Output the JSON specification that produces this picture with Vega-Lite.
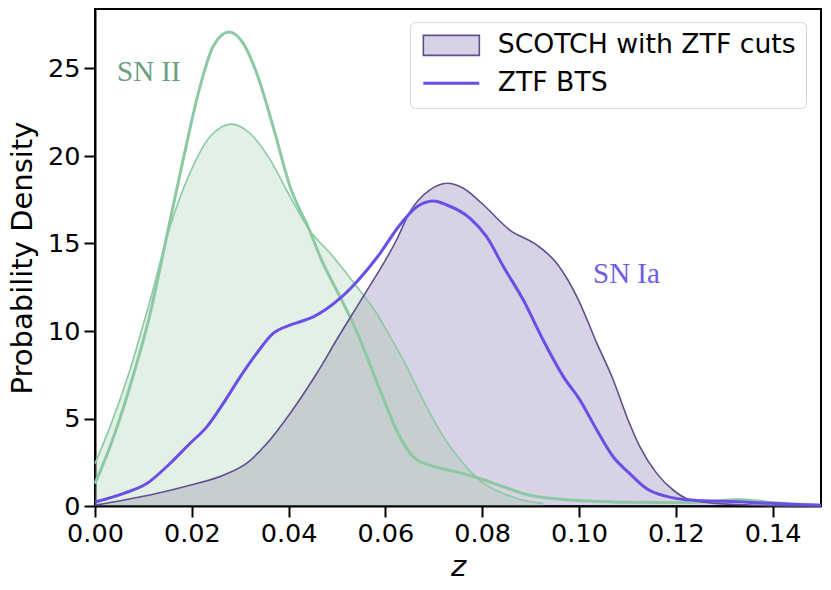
{
  "$schema": "https://vega.github.io/schema/vega-lite/v6.json",
  "width": 726,
  "height": 497,
  "autosize": "none",
  "padding": {"left": 95, "top": 9, "right": 10, "bottom": 84},
  "background": "white",
  "datasets": {
    "kde": [
      {"source": "ZTF BTS", "type": "SN II", "z": 0.0, "density": 1.28},
      {"source": "ZTF BTS", "type": "SN II", "z": 0.0031, "density": 3.38},
      {"source": "ZTF BTS", "type": "SN II", "z": 0.0072, "density": 6.81},
      {"source": "ZTF BTS", "type": "SN II", "z": 0.0114, "density": 11.0},
      {"source": "ZTF BTS", "type": "SN II", "z": 0.0148, "density": 15.39},
      {"source": "ZTF BTS", "type": "SN II", "z": 0.0182, "density": 19.78},
      {"source": "ZTF BTS", "type": "SN II", "z": 0.0217, "density": 23.97},
      {"source": "ZTF BTS", "type": "SN II", "z": 0.0244, "density": 26.26},
      {"source": "ZTF BTS", "type": "SN II", "z": 0.0277, "density": 27.08},
      {"source": "ZTF BTS", "type": "SN II", "z": 0.0306, "density": 26.45},
      {"source": "ZTF BTS", "type": "SN II", "z": 0.0334, "density": 24.74},
      {"source": "ZTF BTS", "type": "SN II", "z": 0.0368, "density": 21.68},
      {"source": "ZTF BTS", "type": "SN II", "z": 0.0403, "density": 18.25},
      {"source": "ZTF BTS", "type": "SN II", "z": 0.0443, "density": 15.77},
      {"source": "ZTF BTS", "type": "SN II", "z": 0.0465, "density": 14.25},
      {"source": "ZTF BTS", "type": "SN II", "z": 0.0506, "density": 11.96},
      {"source": "ZTF BTS", "type": "SN II", "z": 0.053, "density": 10.62},
      {"source": "ZTF BTS", "type": "SN II", "z": 0.0548, "density": 9.48},
      {"source": "ZTF BTS", "type": "SN II", "z": 0.0589, "density": 6.62},
      {"source": "ZTF BTS", "type": "SN II", "z": 0.0623, "density": 4.33},
      {"source": "ZTF BTS", "type": "SN II", "z": 0.0658, "density": 2.8},
      {"source": "ZTF BTS", "type": "SN II", "z": 0.0692, "density": 2.33},
      {"source": "ZTF BTS", "type": "SN II", "z": 0.0747, "density": 1.95},
      {"source": "ZTF BTS", "type": "SN II", "z": 0.0795, "density": 1.57},
      {"source": "ZTF BTS", "type": "SN II", "z": 0.0844, "density": 1.09},
      {"source": "ZTF BTS", "type": "SN II", "z": 0.0899, "density": 0.61},
      {"source": "ZTF BTS", "type": "SN II", "z": 0.0968, "density": 0.37},
      {"source": "ZTF BTS", "type": "SN II", "z": 0.1037, "density": 0.27},
      {"source": "ZTF BTS", "type": "SN II", "z": 0.1105, "density": 0.21},
      {"source": "ZTF BTS", "type": "SN II", "z": 0.123, "density": 0.2},
      {"source": "ZTF BTS", "type": "SN II", "z": 0.1333, "density": 0.36},
      {"source": "ZTF BTS", "type": "SN II", "z": 0.14, "density": 0.19},
      {"source": "ZTF BTS", "type": "SN II", "z": 0.1457, "density": 0.1},
      {"source": "ZTF BTS", "type": "SN II", "z": 0.15, "density": 0.05},

      {"source": "SCOTCH with ZTF cuts", "type": "SN II", "z": 0.0, "density": 2.43},
      {"source": "SCOTCH with ZTF cuts", "type": "SN II", "z": 0.0031, "density": 4.52},
      {"source": "SCOTCH with ZTF cuts", "type": "SN II", "z": 0.0072, "density": 7.76},
      {"source": "SCOTCH with ZTF cuts", "type": "SN II", "z": 0.0114, "density": 11.77},
      {"source": "SCOTCH with ZTF cuts", "type": "SN II", "z": 0.0155, "density": 15.96},
      {"source": "SCOTCH with ZTF cuts", "type": "SN II", "z": 0.0196, "density": 19.02},
      {"source": "SCOTCH with ZTF cuts", "type": "SN II", "z": 0.0238, "density": 21.11},
      {"source": "SCOTCH with ZTF cuts", "type": "SN II", "z": 0.0282, "density": 21.82},
      {"source": "SCOTCH with ZTF cuts", "type": "SN II", "z": 0.032, "density": 21.3},
      {"source": "SCOTCH with ZTF cuts", "type": "SN II", "z": 0.0362, "density": 19.78},
      {"source": "SCOTCH with ZTF cuts", "type": "SN II", "z": 0.0403, "density": 17.68},
      {"source": "SCOTCH with ZTF cuts", "type": "SN II", "z": 0.0443, "density": 15.77},
      {"source": "SCOTCH with ZTF cuts", "type": "SN II", "z": 0.0486, "density": 14.44},
      {"source": "SCOTCH with ZTF cuts", "type": "SN II", "z": 0.0541, "density": 12.53},
      {"source": "SCOTCH with ZTF cuts", "type": "SN II", "z": 0.0582, "density": 11.0},
      {"source": "SCOTCH with ZTF cuts", "type": "SN II", "z": 0.061, "density": 9.67},
      {"source": "SCOTCH with ZTF cuts", "type": "SN II", "z": 0.0637, "density": 8.34},
      {"source": "SCOTCH with ZTF cuts", "type": "SN II", "z": 0.0678, "density": 6.05},
      {"source": "SCOTCH with ZTF cuts", "type": "SN II", "z": 0.072, "density": 3.95},
      {"source": "SCOTCH with ZTF cuts", "type": "SN II", "z": 0.0761, "density": 2.43},
      {"source": "SCOTCH with ZTF cuts", "type": "SN II", "z": 0.0795, "density": 1.47},
      {"source": "SCOTCH with ZTF cuts", "type": "SN II", "z": 0.0844, "density": 0.71},
      {"source": "SCOTCH with ZTF cuts", "type": "SN II", "z": 0.0885, "density": 0.33},
      {"source": "SCOTCH with ZTF cuts", "type": "SN II", "z": 0.0926, "density": 0.15},

      {"source": "SCOTCH with ZTF cuts", "type": "SN Ia", "z": 0.0, "density": 0.05},
      {"source": "SCOTCH with ZTF cuts", "type": "SN Ia", "z": 0.0058, "density": 0.33},
      {"source": "SCOTCH with ZTF cuts", "type": "SN Ia", "z": 0.0127, "density": 0.71},
      {"source": "SCOTCH with ZTF cuts", "type": "SN Ia", "z": 0.0196, "density": 1.18},
      {"source": "SCOTCH with ZTF cuts", "type": "SN Ia", "z": 0.0265, "density": 1.76},
      {"source": "SCOTCH with ZTF cuts", "type": "SN Ia", "z": 0.0313, "density": 2.43},
      {"source": "SCOTCH with ZTF cuts", "type": "SN Ia", "z": 0.0355, "density": 3.57},
      {"source": "SCOTCH with ZTF cuts", "type": "SN Ia", "z": 0.0403, "density": 5.29},
      {"source": "SCOTCH with ZTF cuts", "type": "SN Ia", "z": 0.0458, "density": 7.57},
      {"source": "SCOTCH with ZTF cuts", "type": "SN Ia", "z": 0.0503, "density": 9.67},
      {"source": "SCOTCH with ZTF cuts", "type": "SN Ia", "z": 0.0554, "density": 11.96},
      {"source": "SCOTCH with ZTF cuts", "type": "SN Ia", "z": 0.0623, "density": 15.2},
      {"source": "SCOTCH with ZTF cuts", "type": "SN Ia", "z": 0.0651, "density": 16.82},
      {"source": "SCOTCH with ZTF cuts", "type": "SN Ia", "z": 0.0692, "density": 18.06},
      {"source": "SCOTCH with ZTF cuts", "type": "SN Ia", "z": 0.0727, "density": 18.44},
      {"source": "SCOTCH with ZTF cuts", "type": "SN Ia", "z": 0.0761, "density": 18.16},
      {"source": "SCOTCH with ZTF cuts", "type": "SN Ia", "z": 0.0799, "density": 17.3},
      {"source": "SCOTCH with ZTF cuts", "type": "SN Ia", "z": 0.0857, "density": 15.77},
      {"source": "SCOTCH with ZTF cuts", "type": "SN Ia", "z": 0.0913, "density": 14.91},
      {"source": "SCOTCH with ZTF cuts", "type": "SN Ia", "z": 0.0954, "density": 13.87},
      {"source": "SCOTCH with ZTF cuts", "type": "SN Ia", "z": 0.0999, "density": 11.77},
      {"source": "SCOTCH with ZTF cuts", "type": "SN Ia", "z": 0.1037, "density": 9.29},
      {"source": "SCOTCH with ZTF cuts", "type": "SN Ia", "z": 0.1071, "density": 7.19},
      {"source": "SCOTCH with ZTF cuts", "type": "SN Ia", "z": 0.1099, "density": 5.09},
      {"source": "SCOTCH with ZTF cuts", "type": "SN Ia", "z": 0.1126, "density": 3.38},
      {"source": "SCOTCH with ZTF cuts", "type": "SN Ia", "z": 0.1161, "density": 1.85},
      {"source": "SCOTCH with ZTF cuts", "type": "SN Ia", "z": 0.1195, "density": 0.9},
      {"source": "SCOTCH with ZTF cuts", "type": "SN Ia", "z": 0.1223, "density": 0.42},
      {"source": "SCOTCH with ZTF cuts", "type": "SN Ia", "z": 0.1281, "density": 0.15},
      {"source": "SCOTCH with ZTF cuts", "type": "SN Ia", "z": 0.1374, "density": 0.04},
      {"source": "SCOTCH with ZTF cuts", "type": "SN Ia", "z": 0.15, "density": 0.0},

      {"source": "ZTF BTS", "type": "SN Ia", "z": 0.0, "density": 0.23},
      {"source": "ZTF BTS", "type": "SN Ia", "z": 0.0058, "density": 0.71},
      {"source": "ZTF BTS", "type": "SN Ia", "z": 0.0107, "density": 1.28},
      {"source": "ZTF BTS", "type": "SN Ia", "z": 0.0155, "density": 2.43},
      {"source": "ZTF BTS", "type": "SN Ia", "z": 0.0196, "density": 3.57},
      {"source": "ZTF BTS", "type": "SN Ia", "z": 0.0231, "density": 4.52},
      {"source": "ZTF BTS", "type": "SN Ia", "z": 0.0265, "density": 5.86},
      {"source": "ZTF BTS", "type": "SN Ia", "z": 0.03, "density": 7.38},
      {"source": "ZTF BTS", "type": "SN Ia", "z": 0.0334, "density": 8.72},
      {"source": "ZTF BTS", "type": "SN Ia", "z": 0.0368, "density": 9.86},
      {"source": "ZTF BTS", "type": "SN Ia", "z": 0.0403, "density": 10.34},
      {"source": "ZTF BTS", "type": "SN Ia", "z": 0.0424, "density": 10.53},
      {"source": "ZTF BTS", "type": "SN Ia", "z": 0.0451, "density": 10.81},
      {"source": "ZTF BTS", "type": "SN Ia", "z": 0.0506, "density": 11.86},
      {"source": "ZTF BTS", "type": "SN Ia", "z": 0.0541, "density": 12.82},
      {"source": "ZTF BTS", "type": "SN Ia", "z": 0.0589, "density": 14.44},
      {"source": "ZTF BTS", "type": "SN Ia", "z": 0.0627, "density": 15.96},
      {"source": "ZTF BTS", "type": "SN Ia", "z": 0.0665, "density": 17.1},
      {"source": "ZTF BTS", "type": "SN Ia", "z": 0.0699, "density": 17.43},
      {"source": "ZTF BTS", "type": "SN Ia", "z": 0.0727, "density": 17.2},
      {"source": "ZTF BTS", "type": "SN Ia", "z": 0.0775, "density": 16.44},
      {"source": "ZTF BTS", "type": "SN Ia", "z": 0.0809, "density": 15.39},
      {"source": "ZTF BTS", "type": "SN Ia", "z": 0.0844, "density": 13.67},
      {"source": "ZTF BTS", "type": "SN Ia", "z": 0.0885, "density": 11.77},
      {"source": "ZTF BTS", "type": "SN Ia", "z": 0.0926, "density": 9.48},
      {"source": "ZTF BTS", "type": "SN Ia", "z": 0.0968, "density": 7.38},
      {"source": "ZTF BTS", "type": "SN Ia", "z": 0.1002, "density": 6.05},
      {"source": "ZTF BTS", "type": "SN Ia", "z": 0.1037, "density": 4.33},
      {"source": "ZTF BTS", "type": "SN Ia", "z": 0.1071, "density": 2.8},
      {"source": "ZTF BTS", "type": "SN Ia", "z": 0.1105, "density": 1.85},
      {"source": "ZTF BTS", "type": "SN Ia", "z": 0.114, "density": 0.99},
      {"source": "ZTF BTS", "type": "SN Ia", "z": 0.1181, "density": 0.55},
      {"source": "ZTF BTS", "type": "SN Ia", "z": 0.1223, "density": 0.36},
      {"source": "ZTF BTS", "type": "SN Ia", "z": 0.1298, "density": 0.27},
      {"source": "ZTF BTS", "type": "SN Ia", "z": 0.1367, "density": 0.19},
      {"source": "ZTF BTS", "type": "SN Ia", "z": 0.1436, "density": 0.1},
      {"source": "ZTF BTS", "type": "SN Ia", "z": 0.15, "density": 0.05}
    ],
    "labels": [
      {"label": "SN II", "z": 0.00455, "density": 24.3},
      {"label": "SN Ia", "z": 0.1029, "density": 12.74}
    ]
  },
  "data": {"name": "kde"},
  "encoding": {
    "x": {
      "field": "z", "type": "quantitative",
      "scale": {"domain": [0, 0.15], "nice": false, "zero": false},
      "axis": {"title": "z", "titleFontStyle": "italic", "format": ".2f",
        "values": [0, 0.02, 0.04, 0.06, 0.08, 0.1, 0.12, 0.14],
        "labelPadding": 4, "titlePadding": 6}
    },
    "y": {
      "field": "density", "type": "quantitative",
      "scale": {"domain": [0, 28.4], "nice": false},
      "axis": {"title": "Probability Density", "values": [0, 5, 10, 15, 20, 25],
        "labelPadding": 4, "titlePadding": 10}
    }
  },
  "layer": [
    {
      "transform": [{"filter": "datum.source == 'SCOTCH with ZTF cuts' && datum.type == 'SN Ia'"}],
      "mark": {"type": "area", "interpolate": "monotone", "color": "#634b97", "opacity": 0.25}
    },
    {
      "transform": [{"filter": "datum.source == 'SCOTCH with ZTF cuts' && datum.type == 'SN II'"}],
      "mark": {"type": "area", "interpolate": "monotone", "color": "#8fc39b", "opacity": 0.25}
    },
    {
      "transform": [{"filter": "datum.source == 'SCOTCH with ZTF cuts' && datum.type == 'SN II'"}],
      "mark": {"type": "line", "interpolate": "monotone", "color": "#8cc9a2", "strokeWidth": 1.6}
    },
    {
      "transform": [{"filter": "datum.source == 'ZTF BTS' && datum.type == 'SN II'"}],
      "mark": {"type": "line", "interpolate": "monotone", "color": "#8cc9a2", "strokeWidth": 3}
    },
    {
      "transform": [{"filter": "datum.type == 'SN Ia'"}],
      "mark": {"type": "line", "interpolate": "monotone"},
      "encoding": {
        "color": {
          "field": "source", "type": "nominal",
          "scale": {"domain": ["SCOTCH with ZTF cuts", "ZTF BTS"], "range": ["#5f4f8f", "#6a4fe6"]},
          "legend": {
            "title": null,
            "orient": "none",
            "legendX": 315,
            "legendY": 13,
            "padding": 10,
            "rowPadding": 10,
            "cornerRadius": 5,
            "fillColor": "rgba(255,255,255,0.85)",
            "strokeColor": "#d4d4d4",
            "labelFont": "DejaVu Sans",
            "labelFontSize": 26.7,
            "labelColor": "black",
            "labelOffset": 51,
            "labelLimit": 0,
            "symbolSize": 400,
            "symbolStrokeWidth": 2.5,
            "encode": {
              "symbols": {
                "update": {
                  "shape": {"signal": "datum.value === 'ZTF BTS' ? 'M-1,0H4.6' : 'M-1,-1H4.6V1H-1Z'"},
                  "fill": {"signal": "datum.value === 'ZTF BTS' ? 'transparent' : '#d8d2e6'"},
                  "stroke": {"signal": "datum.value === 'ZTF BTS' ? '#6a4fe6' : '#6a5a9a'"},
                  "opacity": {"value": 1},
                  "fillOpacity": {"value": 1},
                  "strokeOpacity": {"value": 1}
                }
              }
            }
          }
        },
        "strokeWidth": {
          "field": "source", "type": "nominal",
          "scale": {"domain": ["SCOTCH with ZTF cuts", "ZTF BTS"], "range": [1.6, 3]},
          "legend": null
        }
      }
    },
    {
      "data": {"name": "labels"},
      "transform": [{"filter": "datum.label == 'SN II'"}],
      "mark": {"type": "text", "align": "left", "baseline": "alphabetic", "font": "Liberation Serif", "fontSize": 29, "color": "#6b9e7e"},
      "encoding": {"text": {"field": "label"}}
    },
    {
      "data": {"name": "labels"},
      "transform": [{"filter": "datum.label == 'SN Ia'"}],
      "mark": {"type": "text", "align": "left", "baseline": "alphabetic", "font": "Liberation Serif", "fontSize": 29, "color": "#6c5ce7"},
      "encoding": {"text": {"field": "label"}}
    }
  ],
  "config": {
    "view": {"stroke": "black", "strokeWidth": 2},
    "axis": {
      "grid": false,
      "domainColor": "black",
      "domainWidth": 2,
      "tickColor": "black",
      "tickWidth": 2,
      "tickSize": 11,
      "labelFont": "DejaVu Sans",
      "labelFontSize": 25.5,
      "labelColor": "black",
      "labelFlush": false,
      "labelOverlap": false,
      "titleFont": "DejaVu Sans",
      "titleFontSize": 29,
      "titleFontWeight": "normal",
      "titleColor": "black"
    }
  }
}
